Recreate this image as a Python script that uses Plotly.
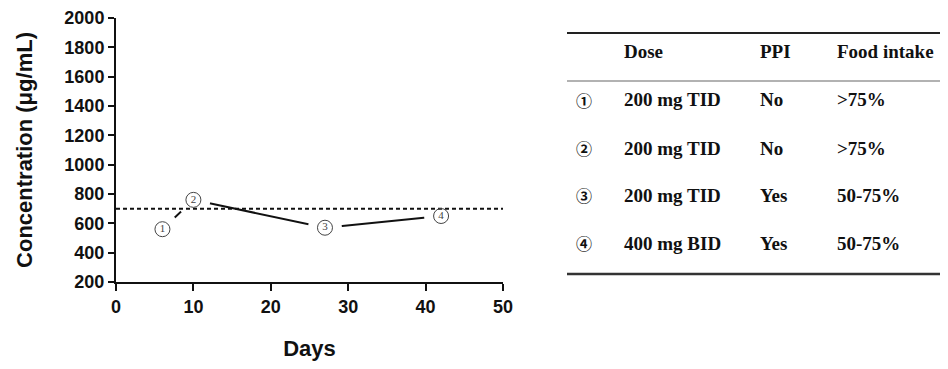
import plotly.graph_objects as go

# ---- data ----
days = [6, 10, 27, 42]
conc = [560, 760, 570, 650]
point_labels = ["1", "2", "3", "4"]
threshold = 700

x_ticks = [0, 10, 20, 30, 40, 50]
y_ticks = [200, 400, 600, 800, 1000, 1200, 1400, 1600, 1800, 2000]

table_headers = ["", "Dose", "PPI", "Food intake"]
table_marks = ["①", "②", "③", "④"]
table_dose = ["200 mg TID", "200 mg TID", "200 mg TID", "400 mg BID"]
table_ppi = ["No", "No", "Yes", "Yes"]
table_food = [">75%", ">75%", "50-75%", "50-75%"]

# ---- layout geometry (page offset of 8px from default body margin) ----
OFF = 8
W, H = 940, 353
ML, MT = 116 - OFF, 18 - OFF
PR, PB = 503 - OFF, 282 - OFF
MR, MB = W - PR, H - PB
PW, PH = W - ML - MR, H - MT - MB

def px(x):
    return (x - OFF - ML) / PW

def py(y):
    return 1 - (y - OFF - MT) / PH

fig = go.Figure()

# connecting line (gaps around symbols made by white discs)
fig.add_trace(go.Scatter(x=days, y=conc, mode="lines",
                         line=dict(color="#111", width=2), hoverinfo="skip", showlegend=False))
fig.add_trace(go.Scatter(x=days, y=conc, mode="markers",
                         marker=dict(size=34, color="white", line=dict(width=0)),
                         hoverinfo="skip", showlegend=False))
# threshold dashed line
fig.add_trace(go.Scatter(x=[x_ticks[0], x_ticks[-1]], y=[threshold, threshold], mode="lines",
                         line=dict(color="#111", width=2, dash="4px,3px"),
                         hoverinfo="skip", showlegend=False))
# circled numbers
fig.add_trace(go.Scatter(x=days, y=conc, mode="markers+text", text=point_labels,
                         textposition="middle center",
                         textfont=dict(family="Liberation Serif", size=11, color="#444"),
                         marker=dict(size=15, symbol="circle-open", color="#444",
                                     line=dict(width=1, color="#444")),
                         hoverinfo="skip", showlegend=False))

axis_font = dict(family="Liberation Sans", size=18, color="#111", weight="bold")
title_font = dict(family="Liberation Sans", size=22, color="#111", weight="bold")
fig.update_xaxes(range=[0, 50], tickvals=x_ticks, ticks="outside", ticklen=7, tickwidth=2,
                 tickcolor="#111", showline=True, linewidth=2, linecolor="#111",
                 showgrid=False, zeroline=False, tickfont=axis_font, automargin=False,
                 title=dict(text="Days", font=title_font, standoff=44))
fig.update_yaxes(range=[200, 2000], tickvals=y_ticks, ticks="outside", ticklen=6, tickwidth=2,
                 tickcolor="#111", showline=True, linewidth=2, linecolor="#111",
                 showgrid=False, zeroline=False, tickfont=axis_font, automargin=False,
                 title=dict(text="Concentration (μg/mL)", font=title_font, standoff=26))

# ---- table ----
shapes = [
    dict(type="line", xref="paper", yref="paper", x0=px(567), x1=px(948), y0=py(33), y1=py(33),
         line=dict(color="#222", width=2)),
    dict(type="line", xref="paper", yref="paper", x0=px(567), x1=px(948), y0=py(81), y1=py(81),
         line=dict(color="#999", width=1.5)),
    dict(type="line", xref="paper", yref="paper", x0=px(567), x1=px(948), y0=py(274), y1=py(274),
         line=dict(color="#333", width=2.5)),
]
fig.update_layout(shapes=shapes)

tfont = dict(family="Liberation Serif", size=19, color="#111", weight="bold")
col_x = [584, 622, 758, 835]
header_y = 51
row_y = [100, 148, 195, 243]
ann = []
for cx, htxt in zip(col_x[1:], table_headers[1:]):
    ann.append(dict(x=px(cx), y=py(header_y), xref="paper", yref="paper", text=htxt,
                    showarrow=False, xanchor="left", yanchor="middle", font=tfont))
for i, ry in enumerate(row_y):
    ann.append(dict(x=px(col_x[0]), y=py(ry), xref="paper", yref="paper", text=table_marks[i],
                    showarrow=False, xanchor="center", yanchor="middle",
                    font=dict(family="Noto Sans CJK JP", size=16, color="#111", weight="bold")))
    for cx, vals in zip(col_x[1:], [table_dose, table_ppi, table_food]):
        ann.append(dict(x=px(cx), y=py(ry), xref="paper", yref="paper", text=vals[i],
                        showarrow=False, xanchor="left", yanchor="middle", font=tfont))
fig.update_layout(annotations=ann)

fig.update_layout(width=W, height=H, margin=dict(l=ML, r=MR, t=MT, b=MB, autoexpand=False),
                  plot_bgcolor="white", paper_bgcolor="white", showlegend=False)

fig.write_html("out.html")
